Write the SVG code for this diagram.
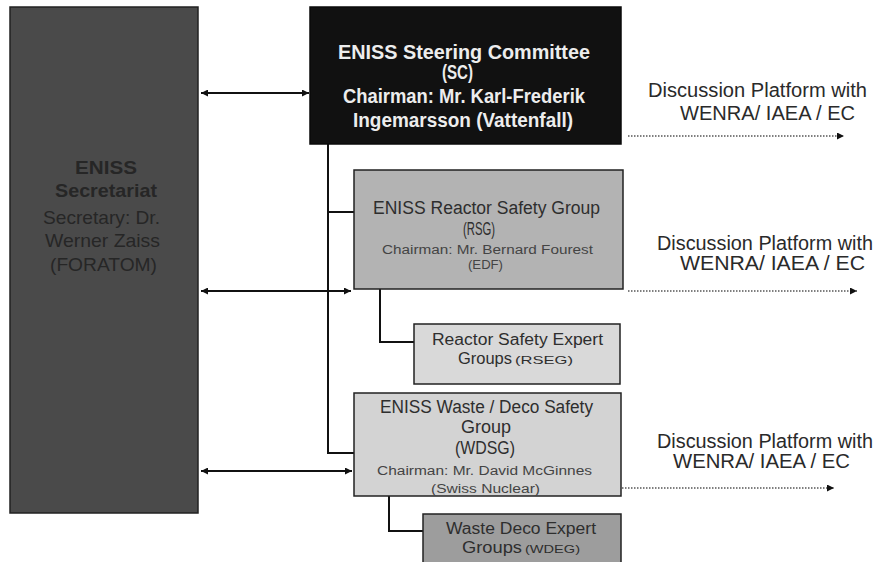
<svg xmlns="http://www.w3.org/2000/svg" width="879" height="562" viewBox="0 0 879 562">
<style>
.box{stroke:#222;stroke-width:1.5}
.t{font-family:"Liberation Sans",Arial,sans-serif;fill:#2e2e2e}
.b{font-weight:bold}
.sc{font-family:"Liberation Sans",Arial,sans-serif;font-weight:bold;fill:#ededed;font-size:20px}
.sec{font-family:"Liberation Sans",Arial,sans-serif;fill:#262626;font-size:19px}
.big{font-size:18px}
.mid{font-size:16px}
.sm{font-size:12px;fill:#444}
.xs{font-size:11px}
.disc{font-family:"Liberation Sans",Arial,sans-serif;font-size:20px;fill:#2a2a2a}
.con{stroke:#111;stroke-width:2;fill:none}
.dot{stroke:#555;stroke-width:1.5;stroke-dasharray:1.5 1.5;fill:none}
</style>
<defs>
<marker id="ah" viewBox="0 0 10 10" refX="10" refY="5" markerWidth="8" markerHeight="7" orient="auto-start-reverse" markerUnits="userSpaceOnUse">
<path d="M0,0 L10,5 L0,10 z" fill="#111"/>
</marker>
</defs>
<rect width="879" height="562" fill="#fff"/>

<g id="connectors">
<line class="con" x1="201" y1="93" x2="309" y2="93" marker-start="url(#ah)" marker-end="url(#ah)"/>
<line class="con" x1="201" y1="291" x2="351" y2="291" marker-start="url(#ah)" marker-end="url(#ah)"/>
<line class="con" x1="201" y1="471" x2="352" y2="471" marker-start="url(#ah)" marker-end="url(#ah)"/>
<polyline class="con" points="328,144 328,453 354,453"/>
<line class="con" x1="328" y1="212" x2="354" y2="212"/>
<polyline class="con" points="380,289 380,342 414,342"/>
<polyline class="con" points="389,496 389,531 423,531"/>
<line class="dot" x1="628" y1="136" x2="844" y2="136" marker-end="url(#ah)"/>
<line class="dot" x1="628" y1="291" x2="857" y2="291" marker-end="url(#ah)"/>
<line class="dot" x1="622" y1="488" x2="834" y2="488" marker-end="url(#ah)"/>
</g>

<g id="secretariat">
<rect class="box" x="10" y="7" width="188" height="506" fill="#4a4a4a" stroke="#2a2a2a"/>
<text class="sec b" x="75" y="174" textLength="62" lengthAdjust="spacingAndGlyphs">ENISS</text>
<text class="sec b" x="55" y="197" textLength="102" lengthAdjust="spacingAndGlyphs">Secretariat</text>
<text class="sec" x="43" y="224" textLength="117" lengthAdjust="spacingAndGlyphs">Secretary: Dr.</text>
<text class="sec" x="45" y="247" textLength="115" lengthAdjust="spacingAndGlyphs">Werner Zaiss</text>
<text class="sec" x="50" y="271" textLength="107" lengthAdjust="spacingAndGlyphs">(FORATOM)</text>
</g>

<g id="sc">
<rect x="310" y="7" width="311" height="137" fill="#111" stroke="#0a0a0a" stroke-width="1.5"/>
<text class="sc" x="338" y="59" textLength="252" lengthAdjust="spacingAndGlyphs">ENISS Steering Committee</text>
<text class="sc" x="442" y="79" textLength="31" lengthAdjust="spacingAndGlyphs">(SC)</text>
<text class="sc" x="343" y="103" textLength="242" lengthAdjust="spacingAndGlyphs">Chairman: Mr. Karl-Frederik</text>
<text class="sc" x="353" y="127" textLength="220" lengthAdjust="spacingAndGlyphs">Ingemarsson (Vattenfall)</text>
</g>

<g id="rsg">
<rect class="box" x="354" y="170" width="269" height="119" fill="#b3b3b3"/>
<text class="t big" x="373" y="214" textLength="227" lengthAdjust="spacingAndGlyphs">ENISS Reactor  Safety Group</text>
<text class="t big" x="463" y="235" textLength="32" lengthAdjust="spacingAndGlyphs">(RSG)</text>
<text class="t sm" x="382" y="254" textLength="211" lengthAdjust="spacingAndGlyphs">Chairman: Mr. Bernard Fourest</text>
<text class="t sm" x="468" y="269" textLength="35" lengthAdjust="spacingAndGlyphs">(EDF)</text>
</g>

<g id="rseg">
<rect class="box" x="414" y="324" width="206" height="60" fill="#d9d9d9"/>
<text class="t mid" x="432" y="345" textLength="171" lengthAdjust="spacingAndGlyphs">Reactor Safety Expert</text>
<text class="t mid" x="458" y="364" textLength="54" lengthAdjust="spacingAndGlyphs">Groups</text>
<text class="t xs" x="515" y="364" textLength="58" lengthAdjust="spacingAndGlyphs">(RSEG)</text>
</g>

<g id="wdsg">
<rect class="box" x="354" y="393" width="267" height="103" fill="#d3d3d3"/>
<text class="t big" x="380" y="413" textLength="213" lengthAdjust="spacingAndGlyphs">ENISS Waste / Deco  Safety</text>
<text class="t big" x="461" y="433" textLength="50" lengthAdjust="spacingAndGlyphs">Group</text>
<text class="t big" x="455" y="454" textLength="60" lengthAdjust="spacingAndGlyphs">(WDSG)</text>
<text class="t sm" x="377" y="475" textLength="215" lengthAdjust="spacingAndGlyphs">Chairman: Mr. David McGinnes</text>
<text class="t sm" x="431" y="493" textLength="109" lengthAdjust="spacingAndGlyphs">(Swiss Nuclear)</text>
</g>

<g id="wdeg">
<rect class="box" x="423" y="514" width="198" height="56" fill="#9d9d9d"/>
<text class="t mid" x="446" y="534" textLength="150" lengthAdjust="spacingAndGlyphs">Waste Deco Expert</text>
<text class="t mid" x="462" y="553" textLength="60" lengthAdjust="spacingAndGlyphs">Groups</text>
<text class="t xs" x="525" y="553" textLength="55" lengthAdjust="spacingAndGlyphs">(WDEG)</text>
</g>

<g id="platform1">
<text class="disc" x="648" y="97" textLength="219" lengthAdjust="spacingAndGlyphs">Discussion Platform with</text>
<text class="disc" x="680" y="120" textLength="175" lengthAdjust="spacingAndGlyphs">WENRA/ IAEA / EC</text>
</g>
<g id="platform2">
<text class="disc" x="657" y="250" textLength="216" lengthAdjust="spacingAndGlyphs">Discussion Platform with</text>
<text class="disc" x="680" y="270" textLength="185" lengthAdjust="spacingAndGlyphs">WENRA/ IAEA / EC</text>
</g>
<g id="platform3">
<text class="disc" x="657" y="448" textLength="216" lengthAdjust="spacingAndGlyphs">Discussion Platform with</text>
<text class="disc" x="673" y="468" textLength="177" lengthAdjust="spacingAndGlyphs">WENRA/ IAEA / EC</text>
</g>
</svg>
